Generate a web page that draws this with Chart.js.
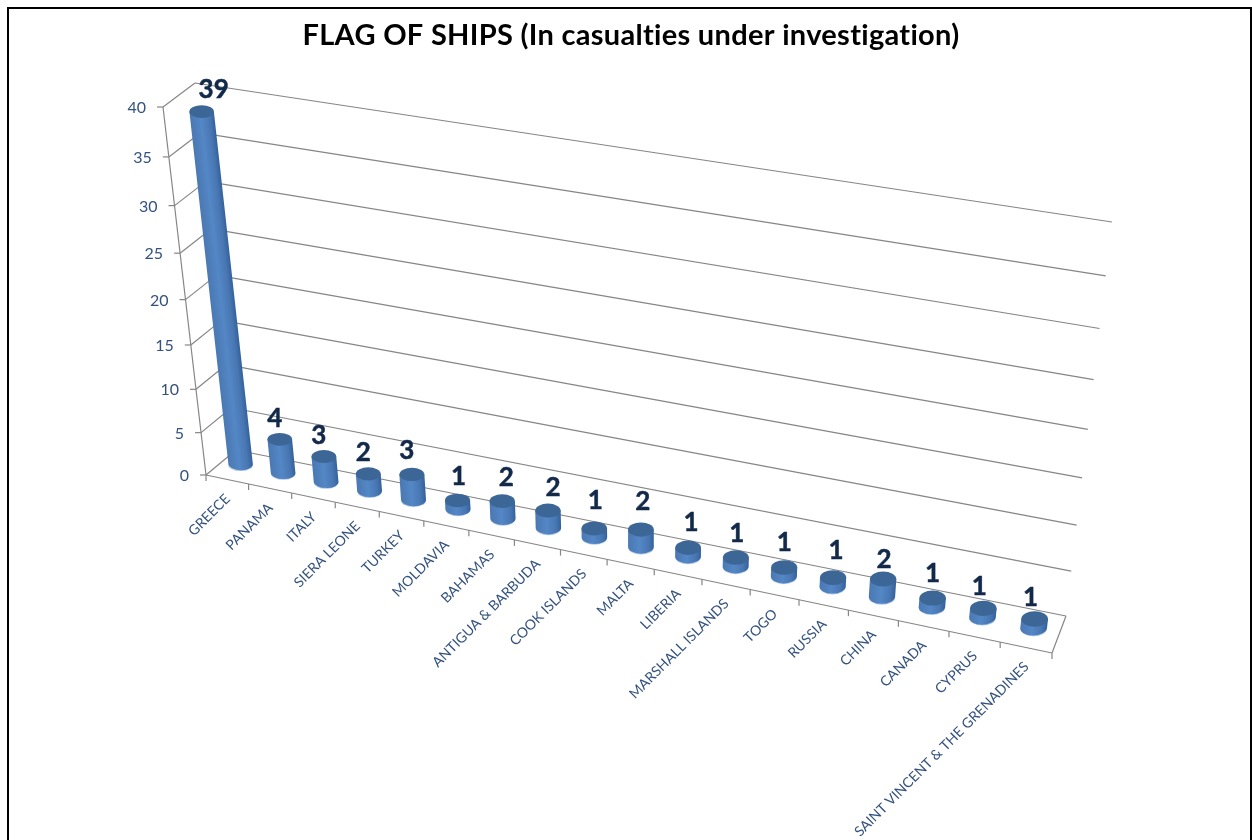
<!DOCTYPE html>
<html>
<head>
<meta charset="utf-8">
<title>Flag of ships</title>
<script src="https://cdn.jsdelivr.net/npm/chart.js@4"></script>
<style>
  html, body { margin: 0; padding: 0; background: #fff; }
  canvas { display: block; }
</style>
</head>
<body>
<canvas id="flagShips" width="1252" height="840"></canvas>
<script>
const categories = ['GREECE', 'PANAMA', 'ITALY', 'SIERA LEONE', 'TURKEY', 'MOLDAVIA', 'BAHAMAS',
  'ANTIGUA & BARBUDA', 'COOK ISLANDS', 'MALTA', 'LIBERIA', 'MARSHALL ISLANDS', 'TOGO', 'RUSSIA',
  'CHINA', 'CANADA', 'CYPRUS', 'SAINT VINCENT & THE GRENADINES'];
const casualties = [39, 4, 3, 2, 3, 1, 2, 2, 1, 2, 1, 1, 1, 1, 2, 1, 1, 1];
const axisMax = 40;
const axisStep = 5;

// the 3d box as it lands on the page: (0,0) (1,0) (1,1) (0,1)
const frontQuad = [[206, 475], [1052, 653], [1097, 260], [163, 107]];
const backQuad = [[236, 450], [1066, 616], [1112, 222], [195, 83]];

// value labels were dragged around by hand in the original, offsets from the bar top
const labelNudgeX = [12, -5, -5, -5, -5, 1, 4, 5, 1, 2, 3, 1, 0, 3, 1, 0, -4, -4];
const labelNudgeY = [-22, -21, -21, -21, -24, -24, -24, -23, -28, -28, -25, -24, -25, -27, -19, -24, -22, -21];

const gridColor = '#868686';
const tickColor = '#34527f';
const valueColor = '#12294a';

function makeHomography(q) {
  const [[x0, y0], [x1, y1], [x2, y2], [x3, y3]] = q;
  const dx1 = x1 - x2, dx2 = x3 - x2, sx = x0 - x1 + x2 - x3;
  const dy1 = y1 - y2, dy2 = y3 - y2, sy = y0 - y1 + y2 - y3;
  const den = dx1 * dy2 - dx2 * dy1;
  const g = (sx * dy2 - dx2 * sy) / den;
  const h = (dx1 * sy - sx * dy1) / den;
  const a = x1 - x0 + g * x1, b = x3 - x0 + h * x3;
  const d = y1 - y0 + g * y1, e = y3 - y0 + h * y3;
  return (u, v) => {
    const w = g * u + h * v + 1;
    return [(a * u + b * v + x0) / w, (d * u + e * v + y0) / w];
  };
}
const front = makeHomography(frontQuad);
const back = makeHomography(backQuad);

// depth 0 is the front of the box, 1 the back wall
function project(u, v, depth) {
  const p = front(u, v), q = back(u, v);
  return [p[0] + (q[0] - p[0]) * depth, p[1] + (q[1] - p[1]) * depth];
}

// bars sit a little off the exact middle of the floor
function barPoint(u, v) {
  const p = project(u, v, 0.5);
  return [p[0] - 1.5 + 2 * u, p[1] - 3 + 1.5 * u + 6 * v];
}

function line(ctx, a, b) {
  ctx.beginPath();
  ctx.moveTo(a[0], a[1]);
  ctx.lineTo(b[0], b[1]);
  ctx.stroke();
}

const box3d = {
  id: 'box3d',
  beforeDraw(chart) {
    const ctx = chart.ctx;
    ctx.save();
    ctx.fillStyle = '#fff';
    ctx.fillRect(0, 0, chart.width, chart.height);
    ctx.strokeStyle = '#000';
    ctx.lineWidth = 2;
    ctx.beginPath();
    ctx.moveTo(8, 860);
    ctx.lineTo(8, 8);
    ctx.lineTo(1251, 8);
    ctx.lineTo(1251, 860);
    ctx.stroke();
    ctx.restore();
    // wider title without the Lato "ti" ligature
    ctx.letterSpacing = '0.3px';
  },
  beforeDatasetsDraw(chart) {
    const ctx = chart.ctx;
    const area = chart.chartArea;
    const y = chart.scales.y;
    const x = chart.scales.x;
    ctx.letterSpacing = '0px';
    ctx.save();
    ctx.strokeStyle = gridColor;
    ctx.lineWidth = 1.2;

    // walls
    y.ticks.forEach((t) => {
      const v = (area.bottom - y.getPixelForValue(t.value)) / area.height;
      const a = project(0, v, 0);
      line(ctx, a, project(0, v, 1));
      line(ctx, project(0, v, 1), project(1, v, 1));
      line(ctx, a, [a[0] - 6, a[1]]);
      ctx.fillStyle = tickColor;
      ctx.font = '16px Lato';
      ctx.textAlign = 'right';
      ctx.textBaseline = 'middle';
      ctx.fillText(String(t.value), a[0] - 17, a[1] + 1);
    });

    // floor and upright axis
    line(ctx, project(0, 0, 0), project(0, 1, 0));
    line(ctx, project(0, 0, 0), project(1, 0, 0));
    line(ctx, project(1, 0, 0), project(1, 0, 1));

    // category ticks and labels
    const n = categories.length;
    for (let i = 0; i <= n; i++) {
      const p = project(i / n, 0, 0);
      line(ctx, p, [p[0], p[1] + 6]);
    }
    categories.forEach((name, i) => {
      const u = (x.getPixelForValue(i) - area.left) / area.width;
      const p = project(u, 0, 0);
      ctx.save();
      ctx.translate(p[0] + 0.5, p[1] + 17);
      ctx.rotate(-Math.PI / 4);
      ctx.fillStyle = tickColor;
      ctx.font = '14px Lato';
      ctx.textAlign = 'right';
      ctx.textBaseline = 'middle';
      ctx.fillText(name, 0, 0);
      ctx.restore();
    });
    ctx.restore();
  },
  afterDatasetsDraw(chart) {
    const ctx = chart.ctx;
    const area = chart.chartArea;
    ctx.save();
    chart.getDatasetMeta(0).data.forEach((bar, i) => {
      const u = (bar.x - area.left) / area.width;
      const v = (area.bottom - bar.y) / area.height;
      const base = barPoint(u, 0);
      const top = barPoint(u, v);
      const rx = 12.2 + 1.2 * u;
      const ry = 6.3 + 1.5 * u;

      // lit rim under the cylinder
      ctx.fillStyle = '#a9c6ea';
      ctx.beginPath();
      ctx.ellipse(base[0], base[1] + 0.8, rx, ry, 0, 0, Math.PI * 2);
      ctx.fill();

      // body, sheared so the shading follows the slant
      const k = (base[0] - top[0]) / (base[1] - top[1]);
      ctx.save();
      ctx.transform(1, 0, k, 1, -k * top[1], 0);
      const grad = ctx.createLinearGradient(top[0] - rx, 0, top[0] + rx, 0);
      grad.addColorStop(0, '#4a78b2');
      grad.addColorStop(0.45, '#5487c6');
      grad.addColorStop(0.8, '#4876b2');
      grad.addColorStop(1, '#33619a');
      ctx.fillStyle = grad;
      ctx.beginPath();
      ctx.moveTo(top[0] - rx, top[1]);
      ctx.lineTo(top[0] - rx, base[1]);
      ctx.ellipse(top[0], base[1], rx, ry, 0, Math.PI, 0, true);
      ctx.lineTo(top[0] + rx, top[1]);
      ctx.closePath();
      ctx.fill();
      ctx.restore();

      // cap
      ctx.fillStyle = '#3c6696';
      ctx.beginPath();
      ctx.ellipse(top[0], top[1], rx, ry, 0, 0, Math.PI * 2);
      ctx.fill();

      // value label
      ctx.fillStyle = valueColor;
      ctx.strokeStyle = valueColor;
      ctx.lineWidth = 0.5;
      ctx.font = 'bold 26px Lato';
      ctx.textAlign = 'center';
      ctx.textBaseline = 'middle';
      const lx = top[0] + labelNudgeX[i];
      const ly = top[1] + labelNudgeY[i];
      ctx.fillText(String(casualties[i]), lx, ly);
      ctx.strokeText(String(casualties[i]), lx, ly);
    });
    ctx.restore();
  }
};

new Chart(document.getElementById('flagShips'), {
  type: 'bar',
  data: {
    labels: categories,
    datasets: [{
      label: 'Casualties',
      data: casualties,
      backgroundColor: 'rgba(0,0,0,0)',
      borderWidth: 0
    }]
  },
  options: {
    responsive: false,
    animation: false,
    layout: { padding: { left: 10, right: 0, top: 0, bottom: 0 } },
    scales: {
      x: { display: false },
      y: { display: false, min: 0, max: axisMax, ticks: { stepSize: axisStep } }
    },
    plugins: {
      legend: { display: false },
      tooltip: { enabled: false },
      title: {
        display: true,
        text: 'FLAG OF SHIPS (In casualties under investigation)',
        color: '#000',
        font: { family: 'Lato', size: 29, weight: 'bold' },
        padding: { top: 18, bottom: 10 }
      }
    }
  },
  plugins: [box3d]
});
</script>
</body>
</html>
